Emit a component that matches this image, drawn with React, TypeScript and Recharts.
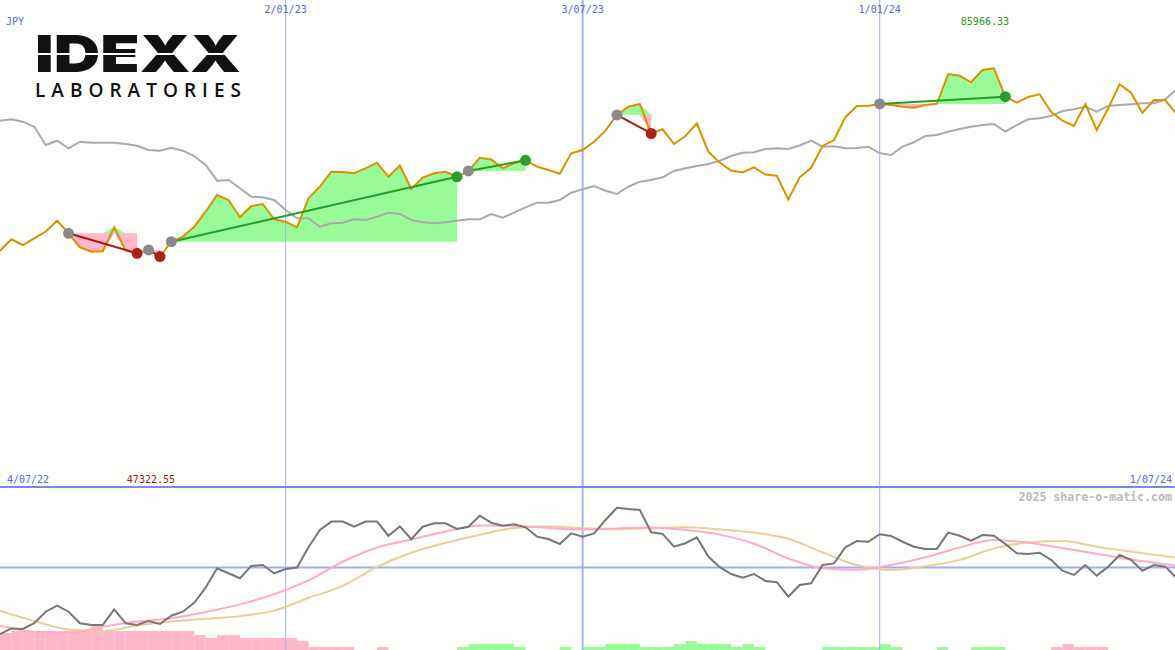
import React from 'react'
import { ComposedChart, Line, Area, Bar, XAxis, YAxis, ReferenceLine } from 'recharts'

// weekly closes in JPY, first week starts 11/07/22
const currency = 'JPY'
const firstWeek = '11/07/22'
const gridDates = ['4/07/22', '2/01/23', '3/07/23', '1/01/24', '1/07/24']

const price = [
  48520, 50860, 49690, 51070, 52420, 54680, 52100, 49220, 48320, 48400,
  53330, 48520, 47990, 48670, 47322.55, 50370, 51400, 53450, 56530, 59960,
  58930, 55380, 57700, 58110, 54970, 54480, 53330, 59280, 61660, 64740,
  64700, 64420, 65440, 66590, 63720, 66020, 61190, 63550, 64420, 64740,
  63700, 64890, 67600, 67250, 65440, 66470, 67090, 65810, 65090, 64330,
  68520, 69200, 70900, 73160, 76390, 78090, 78650, 72590, 73450, 70430,
  72070, 74680, 68850, 66630, 64990, 64580, 65650, 64170, 63900, 59040,
  63590, 65550, 70020, 71250, 75980, 78240, 78280, 78650, 78440, 78090,
  77890, 78440, 78690, 84800, 84460, 83100, 85630, 85966.33, 80140, 78910,
  80100, 80640, 77060, 75220, 74130, 78650, 73310, 77760, 82690, 80970,
  76860, 79470, 79400, 76590,
]

const average = [
  75220, 75500, 75010, 73980, 70230, 71110, 69550, 70900, 70700, 70700,
  70700, 70430, 70080, 69200, 69060, 69670, 69060, 67970, 66120, 62900,
  63040, 61340, 59610, 59490, 58930, 56880, 55180, 55180, 53450, 54150,
  54270, 54970, 54830, 55500, 56330, 56060, 54830, 54350, 54150, 54350,
  54680, 54970, 54970, 56060, 55300, 56330, 57430, 58380, 58380, 58930,
  60430, 61130, 61810, 60840, 60170, 61660, 62690, 63040, 63590, 64890,
  65440, 65910, 66330, 67000, 67970, 68650, 68730, 69410, 69550, 69410,
  70120, 71110, 69880, 69960, 69550, 69610, 69880, 68520, 68170, 69880,
  70780, 72070, 72280, 72960, 73510, 73980, 74330, 74540, 72960, 74330,
  75500, 75710, 76180, 77210, 77560, 78090, 77060, 78240, 78440, 78580,
  78790, 78790, 79610, 81660,
]

// trades: buy week -> sell week
const entryWeeks = [6, 13, 15, 41, 54, 77]
const exitWeeks = [12, 14, 40, 46, 57, 88]

const oscillator = [
  -36.3, -33.2, -33.5, -30.4, -24.1, -20.8, -24.1, -30.4, -31.3, -31.3,
  -22.8, -30.4, -31.3, -29.2, -30.8, -26.3, -24.1, -19.2, -11, -0.4,
  -3.1, -5.8, 0.9, 1.4, -3.1, -0.8, 0, 11.1, 20.5, 25.1,
  25.1, 22.3, 25.1, 25.1, 17.4, 22.5, 15.5, 22.3, 24.2, 24.2,
  21.1, 22.3, 28.3, 24.5, 22.9, 23.6, 22, 16.9, 15.6, 12.9,
  18.7, 16.9, 18.7, 26, 32.7, 32, 31.5, 19.3, 18.4, 11.4,
  13.3, 16.5, 6, 0.2, -3.5, -5.5, -3.5, -7.3, -8, -15.9,
  -9.5, -8.6, 1.4, 2.3, 11.1, 14.5, 14.1, 18.2, 17.3, 14.1,
  11.4, 10.2, 10.2, 19.1, 17.4, 14.7, 17.8, 17.4, 12.9, 7.8,
  7.4, 8.1, 4.2, -1.7, -4, 1.4, -4.4, 0.5, 6.9, 4.2,
  -1.7, 1.4, 0.5, -5.8,
]

const histogram = [
  -17, -19, -19, -19, -19, -19, -19, -19, -24, -19,
  -19, -19, -19, -19, -19, -19, -19, -15, -12, -15,
  -15, -12, -12, -12, -12, -12, -9, -3, -3, -3,
  -3, 0, 0, -3, 0, 0, 0, 0, 0, 0,
  3, 6, 6, 6, 6, 3, 0, 0, 0, 3,
  0, 3, 3, 6, 6, 6, 3, 3, 3, 6,
  9, 6, 6, 6, 3, 6, 3, 0, 0, 0,
  0, 0, 3, 3, 3, 3, 3, 6, 3, 0,
  0, 0, 3, 0, 0, 3, 3, 3, 0, 0,
  0, 0, -3, -6, -3, -3, -3, 0, 0, 0,
  0, 0, 0, 0,
]

const signalWeeks = [
  0, 3, 6, 9, 12, 15, 18, 21, 24, 27, 30, 33, 36, 39, 42, 45, 48, 51,
  54, 57, 60, 63, 66, 69, 72, 75, 78, 81, 84, 87, 90, 93, 96, 99, 102, 103,
]
const fastSignal = [
  -31.7, -35, -35.5, -32.3, -29.5, -27.7, -24.3, -20.1, -14.5, -7, 3.2, 11, 15.3, 19.7, 23, 22.8, 21.6, 20.8,
  21.4, 21.9, 20.5, 18, 13, 5, -0.3, -1.2, 1.4, 5.6, 11, 15.1, 13.6, 10.7, 7.6, 4.4, 1.8, 1,
]
const slowSignal = [
  -23.5, -29.2, -33.8, -34.8, -31.6, -29.4, -28, -26.5, -23.5, -16.6, -10, 0.4, 8.1, 13.5, 17.9, 21.6, 22.4, 21.5,
  20.9, 21.6, 22, 20.8, 19.1, 15.7, 8.3, 1.4, -1.3, 0.7, 4.2, 10.5, 13.7, 14.5, 11.4, 8.8, 6.2, 5.6,
]

const oscTicks = [40, 0, -40]
const watermark = '2025 share-o-matic.com'

const W = 1175
const TOP_H = 487
const BOTTOM_H = 163
const X_DOMAIN: [number, number] = [0, 102.85]

const BG = '#fdfdfb'
const GRID = '#a4b2f2'
const BLUE_TEXT = '#5667ee'
const MONO = '"DejaVu Sans Mono", monospace'
const UP_FILL = '#98fb98'
const DOWN_FILL = '#ffb6c8'

const parseDate = (s: string) => {
  const [d, m, y] = s.split('/').map(Number)
  return Date.UTC(2000 + y, m - 1, d)
}
const weekOf = (s: string) => (parseDate(s) - parseDate(firstWeek)) / (7 * 864e5)

const grid = gridDates.map((text) => ({
  text,
  k: weekOf(text),
  mid: Number(text.split('/')[1]) === 7,
}))

const trades = entryWeeks.map((entry, j) => ({
  entry,
  exit: exitWeeks[j],
  win: price[exitWeeks[j]] > price[entry],
}))

const rows = price.map((p, k) => {
  const row: any = { k, price: p, average: average[k] }
  trades.forEach((t, j) => {
    if (k >= t.entry && k <= t.exit) {
      const e = price[t.entry]
      row['up' + j] = [e, Math.max(p, e)]
      row['dn' + j] = [Math.min(p, e), e]
    }
  })
  return row
})

const maxK = price.indexOf(Math.max(...price))
const minK = price.indexOf(Math.min(...price))

const oscRows = oscillator.map((v, k) => ({
  k,
  osc: v,
  hist: Math.abs(histogram[k]),
  sign: Math.sign(histogram[k]),
}))

const signalRows = signalWeeks.map((k, i) => ({ k, fast: fastSignal[i], slow: slowSignal[i] }))

const dateLabel = (text: string) => (props: any) => {
  const x = props.viewBox?.x ?? 0
  let anchor: 'middle' | 'start' | 'end' = 'middle'
  let tx = x
  let ty = 13
  if (x < 0) {
    anchor = 'start'
    tx = 7
    ty = 483
  } else if (x > W) {
    anchor = 'end'
    tx = W - 3
    ty = 483
  }
  return (
    <text x={tx} y={ty} textAnchor={anchor} fill={BLUE_TEXT} fontSize={10} fontFamily={MONO}>
      {text}
    </text>
  )
}

const extremeLabel = (value: number, color: string, ty: number) => (props: any) => (
  <text x={(props.viewBox?.x ?? 0) - 9} y={ty} textAnchor="middle" fill={color} fontSize={10} fontFamily={MONO}>
    {value.toFixed(2)}
  </text>
)

const tradeDot = (win: boolean) => (props: any) => {
  const fill = props.index === 0 ? '#8a8a8a' : win ? '#2e9b2e' : '#a8221a'
  return <circle key={props.index} cx={props.cx} cy={props.cy} r={5.5} fill={fill} />
}

const OscTick = (props: any) => {
  const v = props.payload.value
  return (
    <text x={6} y={v === 0 ? props.y - 3 : props.y + 5} fill="#777" fontSize={10} fontFamily={MONO}>
      {v}
    </text>
  )
}

const HistBar = (p: any) => (
  <rect
    x={p.x + p.width / 2}
    y={p.y}
    width={p.width}
    height={Math.max(0, p.height)}
    fill={p.payload.sign < 0 ? DOWN_FILL : UP_FILL}
  />
)

export default function App() {
  const margin = { top: 0, right: 0, bottom: 0, left: 0 }
  return (
    <div style={{ position: 'absolute', left: 0, top: 0, width: W, height: 650, background: BG, overflow: 'hidden' }}>
      <div style={{ position: 'absolute', left: 0, top: 0 }}>
        <ComposedChart width={W} height={TOP_H} data={rows} margin={margin}>
          <XAxis type="number" dataKey="k" domain={X_DOMAIN} hide allowDataOverflow />
          <YAxis domain={[0, 100000]} hide allowDataOverflow />
          {grid.map((g) => (
            <ReferenceLine
              key={g.text}
              x={g.k}
              stroke={GRID}
              strokeWidth={g.mid ? 2 : 1}
              ifOverflow="visible"
              label={dateLabel(g.text)}
            />
          ))}
          {trades.map((t, j) => (
            <Area
              key={'up' + j}
              dataKey={'up' + j}
              type="linear"
              stroke="none"
              fill={UP_FILL}
              fillOpacity={1}
              activeDot={false}
              isAnimationActive={false}
            />
          ))}
          {trades.map((t, j) => (
            <Area
              key={'dn' + j}
              dataKey={'dn' + j}
              type="linear"
              stroke="none"
              fill={DOWN_FILL}
              fillOpacity={1}
              activeDot={false}
              isAnimationActive={false}
            />
          ))}
          <Line dataKey="average" type="linear" stroke="#aaaaaa" strokeWidth={2} dot={false} activeDot={false} isAnimationActive={false} />
          <Line dataKey="price" type="linear" stroke="#da9100" strokeWidth={2} dot={false} activeDot={false} isAnimationActive={false} />
          {trades.map((t, j) => (
            <Line
              key={'trade' + j}
              data={[
                { k: t.entry, v: price[t.entry] },
                { k: t.exit, v: price[t.exit] },
              ]}
              dataKey="v"
              type="linear"
              stroke={t.win ? '#229e22' : '#a11d1d'}
              strokeWidth={2}
              dot={tradeDot(t.win)}
              activeDot={false}
              isAnimationActive={false}
            />
          ))}
          <ReferenceLine x={maxK} stroke="none" label={extremeLabel(price[maxK], '#229e22', 25)} />
          <ReferenceLine x={minK} stroke="none" label={extremeLabel(price[minK], '#9c1c1c', 483)} />
        </ComposedChart>
      </div>

      <div style={{ position: 'absolute', left: 0, top: TOP_H }}>
        <ComposedChart width={W} height={BOTTOM_H} data={oscRows} margin={margin}>
          <XAxis type="number" dataKey="k" domain={X_DOMAIN} hide allowDataOverflow />
          <YAxis
            yAxisId="osc"
            domain={[-45, 44]}
            ticks={oscTicks}
            interval={0}
            width={0}
            axisLine={false}
            tickLine={false}
            tick={OscTick}
            allowDataOverflow
          />
          <YAxis yAxisId="hist" domain={[0, BOTTOM_H]} hide />
          {grid.map((g) => (
            <ReferenceLine key={g.text} yAxisId="osc" x={g.k} stroke={GRID} strokeWidth={g.mid ? 2 : 1} />
          ))}
          <ReferenceLine yAxisId="osc" y={0} stroke="#a0aef2" strokeWidth={2} />
          <Bar yAxisId="hist" dataKey="hist" barSize={11.42} shape={HistBar} activeBar={false} isAnimationActive={false} />
          <Line yAxisId="osc" data={signalRows} dataKey="slow" type="monotone" stroke="#e6cf9f" strokeWidth={2} dot={false} activeDot={false} isAnimationActive={false} />
          <Line yAxisId="osc" data={signalRows} dataKey="fast" type="monotone" stroke="#ffaac6" strokeWidth={2} dot={false} activeDot={false} isAnimationActive={false} />
          <Line yAxisId="osc" dataKey="osc" type="linear" stroke="#777777" strokeWidth={2} dot={false} activeDot={false} isAnimationActive={false} />
        </ComposedChart>
      </div>

      <div style={{ position: 'absolute', left: 0, top: TOP_H - 1, width: W, height: 2, background: '#7a88ec' }} />

      <svg width={W} height={650} style={{ position: 'absolute', left: 0, top: 0, pointerEvents: 'none' }}>
        <text x={6} y={25} fill={BLUE_TEXT} fontSize={10} fontFamily={MONO}>
          {currency}
        </text>
        <text
          x={35}
          y={72}
          fill="#111"
          fontSize={51}
          fontWeight={900}
          fontFamily="Inter, 'DejaVu Sans', sans-serif"
          textLength={206}
          lengthAdjust="spacingAndGlyphs"
        >
          IDEXX
        </text>
        <rect x={33} y={53} width={212} height={2} fill={BG} />
        <text
          x={35}
          y={96.5}
          fill="#111"
          fontSize={19}
          fontWeight={600}
          fontFamily="'Open Sans', sans-serif"
          textLength={206}
          lengthAdjust="spacing"
        >
          LABORATORIES
        </text>
        <text x={W - 3} y={TOP_H + 14} textAnchor="end" fill="#bbbbbb" fontSize={11.6} fontWeight="bold" fontFamily={MONO}>
          {watermark}
        </text>
      </svg>
    </div>
  )
}
